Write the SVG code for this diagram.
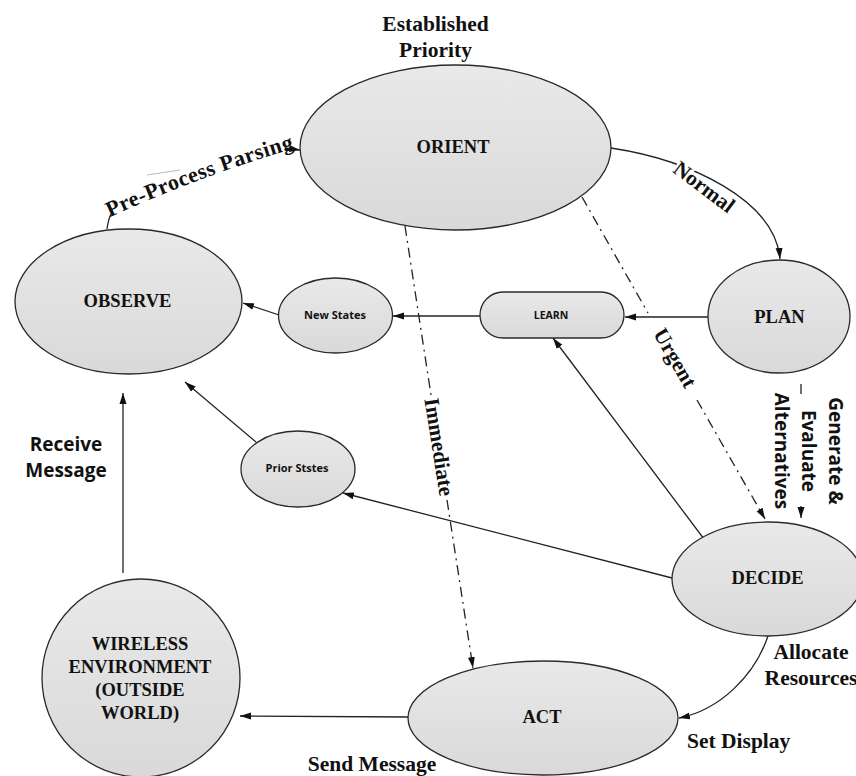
<svg xmlns="http://www.w3.org/2000/svg" width="856" height="776" viewBox="0 0 856 776">
<style>
.node{fill:url(#g);stroke:#2a2a2a;stroke-width:1.3}
.ser{font-family:"Liberation Serif","Times New Roman",serif;font-weight:bold;fill:#111}
.san{font-family:"Open Sans","Noto Sans",sans-serif;font-weight:bold;fill:#111}
.nl{font-size:18.5px;text-anchor:middle}
.el{font-size:21.5px}
.sm{font-size:11px;text-anchor:middle}
.ln{fill:none;stroke:#222;stroke-width:1.3}
.dd{stroke-dasharray:10 5 2 5}
.halo{stroke:#fff;stroke-width:5;paint-order:stroke;stroke-linejoin:round}
</style>
<defs>
<linearGradient id="g" x1="0" y1="0" x2="0" y2="1">
<stop offset="0" stop-color="#e9e9e9"/>
<stop offset="1" stop-color="#d9d9d9"/>
</linearGradient>
<marker id="ah" markerUnits="userSpaceOnUse" markerWidth="12" markerHeight="8" refX="11" refY="4" orient="auto">
<path d="M0,0.5 L11,4 L0,7.5 z" fill="#111"/>
</marker>
</defs>
<rect width="856" height="776" fill="#fff"/>

<g id="connectors">
<path class="ln" d="M107,229 C108,222 109,218 111,214"/>
<path d="M147,175 L180,170" fill="none" stroke="#bbb" stroke-width="1"/>
<path class="ln" d="M285,148 L300,150" marker-end="url(#ah)"/>
<path class="ln" d="M611,148 C690,160 775,200 780,259" marker-end="url(#ah)"/>
<path class="ln dd" d="M582,197 L648,313"/>
<path class="ln dd" d="M697,400 L765,519" marker-end="url(#ah)"/>
<path class="ln dd" d="M405,226 L431,395"/>
<path class="ln dd" d="M447,500 L473,668" marker-end="url(#ah)"/>
<path class="ln" d="M708,317 L625,317" marker-end="url(#ah)"/>
<path class="ln" d="M480,316 L393,316" marker-end="url(#ah)"/>
<path class="ln" d="M279,315 L243,303" marker-end="url(#ah)"/>
<path class="ln" d="M256,442 L185,382" marker-end="url(#ah)"/>
<path class="ln" d="M672,578 L343,493" marker-end="url(#ah)"/>
<path class="ln" d="M710,547 L553,338" marker-end="url(#ah)"/>
<path class="ln" d="M768,636 C755,675 720,710 679,718" marker-end="url(#ah)"/>
<path class="ln" d="M408,717 L240,716" marker-end="url(#ah)"/>
<path class="ln" d="M123,573 L123,393" marker-end="url(#ah)"/>
<path class="ln" d="M801,384 L801,394"/>
<path class="ln" d="M801,506 L801,518" marker-end="url(#ah)"/>
</g>

<g id="orient">
<ellipse class="node" cx="455.5" cy="147.5" rx="155.5" ry="82.5"/>
<text class="ser nl" x="453" y="153">ORIENT</text>
</g>
<g id="observe">
<ellipse class="node" cx="128.5" cy="301.5" rx="113.5" ry="72.5"/>
<text class="ser nl" x="127.5" y="307">OBSERVE</text>
</g>
<g id="new-states">
<ellipse class="node" cx="335.5" cy="315.5" rx="57" ry="37.5"/>
<text class="san sm" x="335" y="319">New States</text>
</g>
<g id="learn">
<rect class="node" x="480" y="292" width="144" height="46" rx="23"/>
<text class="san sm" style="font-size:10.5px" x="551" y="319">LEARN</text>
</g>
<g id="plan">
<ellipse class="node" cx="779" cy="316.5" rx="71" ry="56.5"/>
<text class="ser nl" x="779.5" y="323">PLAN</text>
</g>
<g id="prior-states">
<ellipse class="node" cx="298" cy="469" rx="57" ry="38"/>
<text class="san sm" x="297" y="472">Prior Ststes</text>
</g>
<g id="decide">
<ellipse class="node" cx="767.5" cy="579" rx="95.5" ry="57"/>
<text class="ser nl" x="767.5" y="584">DECIDE</text>
</g>
<g id="act">
<ellipse class="node" cx="543" cy="718" rx="135" ry="57"/>
<text class="ser nl" x="542" y="723">ACT</text>
</g>
<g id="wireless">
<circle class="node" cx="141" cy="678" r="99"/>
<text class="ser nl" x="140" y="650">WIRELESS</text>
<text class="ser nl" x="140" y="673">ENVIRONMENT</text>
<text class="ser nl" x="140" y="696">(OUTSIDE</text>
<text class="ser nl" x="140" y="719">WORLD)</text>
</g>

<g id="labels">
<text class="ser el" text-anchor="middle" x="435.5" y="31">Established</text>
<text class="ser el" text-anchor="middle" x="435.5" y="57">Priority</text>
<path id="pp" d="M108,218 Q195,178 292,149" fill="none"/>
<text class="ser" style="font-size:22px;letter-spacing:0.5px"><textPath href="#pp" startOffset="2">Pre-Process Parsing</textPath></text>
<text class="ser el halo" text-anchor="middle" transform="translate(704,187) rotate(37)" y="7">Normal</text>
<text class="ser el" text-anchor="middle" transform="translate(675,358) rotate(60)" y="7">Urgent</text>
<text class="ser el" text-anchor="middle" transform="translate(439,447) rotate(81)" y="7">Immediate</text>
<text class="san" style="font-size:19px" text-anchor="middle" x="66" y="451">Receive</text>
<text class="san" style="font-size:19px" text-anchor="middle" x="66" y="477">Message</text>
<text class="san" style="font-size:19px" text-anchor="middle" transform="translate(829,451) rotate(90)"><tspan x="0" y="0">Generate &amp;</tspan><tspan x="0" dy="27">Evaluate</tspan><tspan x="0" dy="27">Alternatives</tspan></text>
<text class="ser el" text-anchor="middle" x="811" y="659">Allocate</text>
<text class="ser el" text-anchor="middle" x="811" y="685">Resources</text>
<text class="ser el" x="687" y="748">Set Display</text>
<text class="ser el" text-anchor="middle" x="372" y="771">Send Message</text>
</g>
</svg>
